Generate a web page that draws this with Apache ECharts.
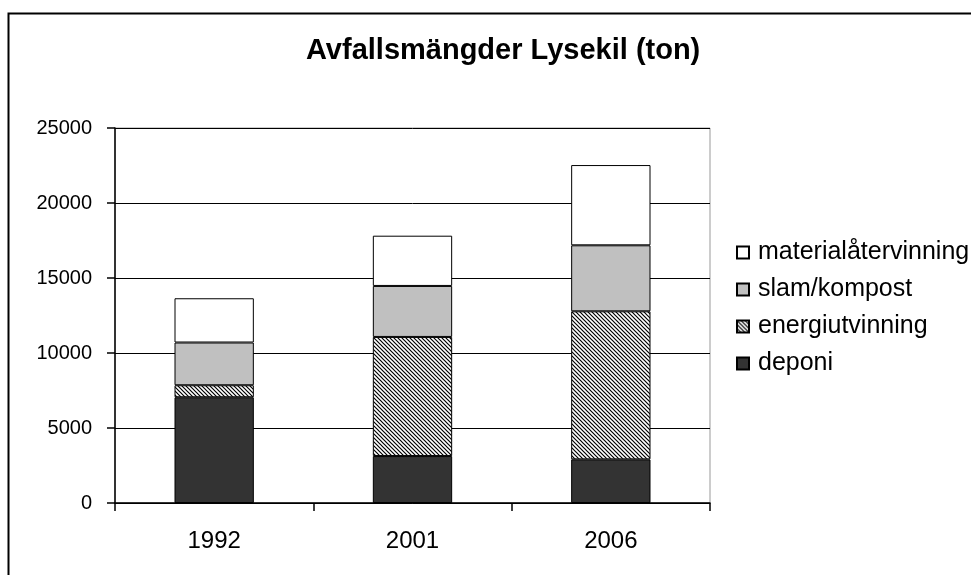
<!DOCTYPE html>
<html lang="sv">
<head>
    <meta charset="UTF-8">
    <title>Avfallsmängder Lysekil</title>
    <script src="https://cdn.jsdelivr.net/npm/echarts@6/dist/echarts.min.js"></script>
    <style>
        html, body { margin: 0; padding: 0; background: #fff; }
        #chart { width: 971px; height: 575px; }
    </style>
</head>
<body>
    <div id="chart"></div>
    <script>
        var years = ['1992', '2001', '2006'];
        var deponi = [7050, 3130, 2910];
        var energiutvinning = [800, 7940, 9870];
        var slamKompost = [2850, 3400, 4400];
        var materialatervinning = [2950, 3350, 5350];
        var legendOrder = ['materialåtervinning', 'slam/kompost', 'energiutvinning', 'deponi'];

        // diagonal hatch for energiutvinning
        var hatch = document.createElement('canvas');
        hatch.width = 4;
        hatch.height = 4;
        var ctx = hatch.getContext('2d');
        ctx.fillStyle = '#fff';
        ctx.fillRect(0, 0, 4, 4);
        ctx.strokeStyle = '#000';
        ctx.lineWidth = 1.2;
        ctx.beginPath();
        ctx.moveTo(-1, -1); ctx.lineTo(5, 5);
        ctx.moveTo(-1, 3); ctx.lineTo(1, 5);
        ctx.moveTo(3, -1); ctx.lineTo(5, 1);
        ctx.stroke();

        var font = 'Liberation Sans, Arial, sans-serif';

        function bar(name, data, fill) {
            return {
                name: name,
                type: 'bar',
                stack: 'total',
                barWidth: '40%',
                data: data,
                itemStyle: { color: fill, borderColor: '#000', borderWidth: 1 },
                emphasis: { disabled: true }
            };
        }

        var myChart = echarts.init(document.getElementById('chart'), null, { renderer: 'canvas' });

        var option = {
            animation: false,
            backgroundColor: '#fff',
            textStyle: { fontFamily: font, color: '#000' },
            title: {
                text: 'Avfallsmängder Lysekil (ton)',
                left: 301,
                top: 31,
                textStyle: { fontFamily: font, fontSize: 29, fontWeight: 'bold', color: '#000' }
            },
            graphic: [{
                type: 'rect',
                left: 6,
                top: 11,
                shape: { width: 990, height: 600 },
                style: { fill: 'none', stroke: '#000', lineWidth: 2 },
                silent: true
            }],
            legend: {
                orient: 'vertical',
                left: 731,
                top: 235,
                itemWidth: 12,
                itemHeight: 12,
                itemGap: 12,
                icon: 'rect',
                data: legendOrder,
                textStyle: { fontFamily: font, fontSize: 25, color: '#000', padding: [0, 0, 0, 4] }
            },
            grid: {
                left: 115,
                right: 261,
                top: 128,
                bottom: 72,
                show: true,
                borderColor: '#999',
                borderWidth: 1
            },
            xAxis: {
                type: 'category',
                data: years,
                axisLine: { lineStyle: { color: '#000', width: 1.5 } },
                axisTick: { show: true, length: 8, lineStyle: { color: '#000', width: 1.5 } },
                axisLabel: { fontFamily: font, fontSize: 24, color: '#000', margin: 26 }
            },
            yAxis: {
                type: 'value',
                min: 0,
                max: 25000,
                interval: 5000,
                axisLine: { show: true, lineStyle: { color: '#000', width: 1.5 } },
                axisTick: { show: true, length: 8, lineStyle: { color: '#000', width: 1.5 } },
                axisLabel: {
                    fontFamily: font, fontSize: 20, color: '#000', margin: 23,
                    formatter: function (v) { return String(v); }
                },
                splitLine: { lineStyle: { color: '#000', width: 1 } }
            },
            series: [
                bar('deponi', deponi, '#333333'),
                bar('energiutvinning', energiutvinning, { image: hatch, repeat: 'repeat' }),
                bar('slam/kompost', slamKompost, '#c0c0c0'),
                bar('materialåtervinning', materialatervinning, '#ffffff')
            ]
        };

        myChart.setOption(option);
    </script>
</body>
</html>
